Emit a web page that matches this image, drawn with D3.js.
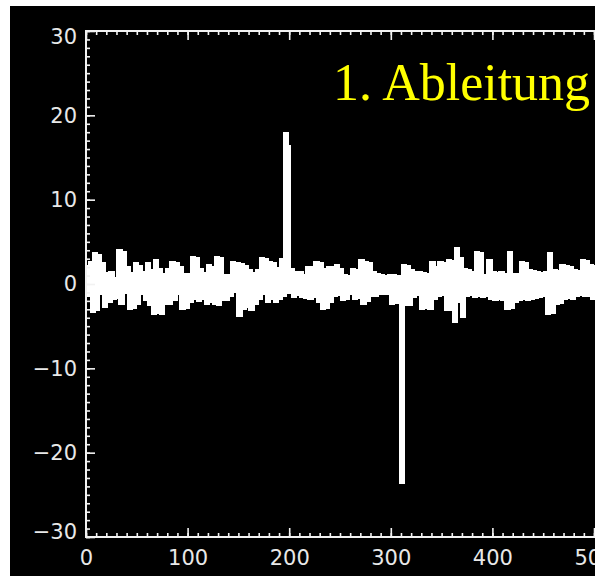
<!DOCTYPE html>
<html>
<head>
<meta charset="utf-8">
<script src="https://cdn.jsdelivr.net/npm/d3@7"></script>
<style>
  html, body { margin: 0; padding: 0; background: #fff; }
  svg { display: block; }
</style>
</head>
<body>
<script>
// derivative signal, one value every 2 samples (x = 0, 2, 4, ...)
const step = 2;
const values = [
  2.0, -1.3, 2.5, -3.2, 3.5, -2.9, 3.3, -1.0, 2.3, -2.6,
  1.2, -2.0, 1.3, -1.6, 0.6, -1.5, 3.9, -2.2, 3.6, -0.9,
  1.9, -2.8, 1.2, -2.7, 2.3, -2.2, 2.0, -1.0, 1.3, -1.8,
  2.3, -2.4, 1.5, -3.4, 2.7, -3.3, 1.7, -3.4, 1.1, -2.2,
  1.7, -2.2, 2.5, -1.8, 2.4, -1.0, 1.9, -2.8, 1.1, -2.7,
  1.1, -2.0, 3.1, -1.6, 3.0, -1.9, 1.7, -1.6, 1.2, -2.2,
  2.1, -2.0, 1.9, -2.2, 3.1, -2.4, 3.0, -1.8, 0.9, -1.8,
  0.9, -1.3, 2.5, -0.8, 2.3, -3.6, 2.2, -2.8, 2.0, -2.6,
  1.5, -3.0, 1.2, -2.2, 1.5, -1.6, 2.9, -1.1, 2.8, -2.0,
  2.5, -1.7, 2.3, -2.0, 1.8, -1.6, 2.8, -1.3, 17.8, 16.2,
  -0.9, 1.7, -1.4, 1.3, -1.2, 1.3, -1.4, 0.9, -1.5, 1.9,
  -1.6, 1.9, -1.4, 2.5, -2.0, 2.3, -2.8, 1.7, -2.7, 1.9,
  -2.0, 1.9, -1.3, 2.1, -1.2, 1.6, -1.8, 0.9, -1.7, 0.8,
  -1.1, 1.7, -1.6, 1.5, -1.5, 2.7, -2.2, 2.5, -1.9, 2.4,
  -1.3, 1.3, -1.3, 1.1, -1.1, 0.9, -1.0, 0.8, -1.1, 0.9,
  -2.2, 0.9, -2.1, 0.8, -1.4, -23.5, 2.1, -2.4, 2.0, -2.3,
  1.5, -1.4, 1.3, -1.2, 1.3, -2.8, 1.2, -2.7, 1.1, -2.8,
  2.5, -1.6, 1.9, -1.3, 2.5, -1.2, 2.4, -3.0, 2.7, -2.9,
  2.6, -4.4, 4.1, -2.0, 2.9, -3.8, 1.7, -1.3, 1.5, -1.2,
  1.3, -1.4, 3.7, -1.3, 3.5, -1.4, 0.9, -1.3, 2.7, -1.6,
  1.3, -1.8, 1.2, -1.7, 1.3, -1.8, 1.1, -2.8, 3.7, -2.7,
  1.1, -2.0, 1.0, -1.8, 2.5, -1.7, 2.4, -1.8, 1.5, -1.6,
  1.4, -1.5, 1.3, -1.4, 1.2, -1.3, 1.3, -3.4, 3.5, -3.3,
  1.5, -2.2, 1.4, -2.1, 2.1, -1.6, 2.0, -1.5, 1.9, -1.6,
  1.5, -1.3, 1.4, -1.2, 2.7, -1.3, 2.6, -1.3, 2.1, -1.6,
  2.0, -1.5, 1.9, -1.4, 1.6, -1.2
];
const xTicks = [0, 100, 200, 300, 400, 500];
const yTicks = [-30, -20, -10, 0, 10, 20, 30];
const title = "1. Ableitung";

const width = 595, height = 576;
const margin = { left: 86, top: 31, bottom: 39 };
const plotBottom = height - margin.bottom;

const x = d3.scaleLinear()
    .domain([0, 512])
    .range([margin.left, margin.left + 520.2]);

const y = d3.scaleLinear()
    .domain([-30, 30])
    .range([plotBottom, margin.top]);

const svg = d3.select("body").append("svg")
    .attr("width", width)
    .attr("height", height);

// black picture area with thin white border top/left
svg.append("rect")
    .attr("x", 10).attr("y", 6)
    .attr("width", width - 10).attr("height", height - 6)
    .attr("fill", "#000");

svg.append("clipPath").attr("id", "plot-clip")
  .append("rect")
    .attr("x", margin.left).attr("y", margin.top)
    .attr("width", width - margin.left).attr("height", plotBottom - margin.top);

const line = d3.line()
    .x((d, i) => x(i * step))
    .y(d => y(d))
    .curve(d3.curveStepAfter);

svg.append("path")
    .attr("clip-path", "url(#plot-clip)")
    .attr("d", line(values))
    .attr("fill", "none")
    .attr("stroke", "#fff")
    .attr("stroke-width", 4.3)
    .attr("shape-rendering", "crispEdges");

// axes (ticks point inward, IDL style)
const axisColor = "#f2f2f2";
const labelFont = "DejaVu Sans, sans-serif";

function styleAxis(g) {
  g.select(".domain").remove();
  g.selectAll(".tick line").attr("stroke", axisColor).attr("stroke-width", 1.6);
  g.selectAll(".tick text")
      .attr("fill", "#e8e8e8")
      .style("font-family", labelFont)
      .style("font-size", "21px");
}

const xMinor = d3.range(0, 520, 10);
const yMinor = d3.range(-30, 31, 1);

// bottom
svg.append("g").attr("transform", `translate(0,${plotBottom})`)
    .call(d3.axisBottom(x).tickValues(xMinor).tickSize(-4).tickFormat(""))
    .call(styleAxis);
svg.append("g").attr("transform", `translate(0,${plotBottom})`)
    .call(d3.axisBottom(x).tickValues(xTicks).tickSize(-9).tickPadding(13).tickFormat(d3.format("d")))
    .call(styleAxis);

// top
svg.append("g").attr("transform", `translate(0,${margin.top})`)
    .call(d3.axisTop(x).tickValues(xMinor).tickSize(-4).tickFormat(""))
    .call(styleAxis);
svg.append("g").attr("transform", `translate(0,${margin.top})`)
    .call(d3.axisTop(x).tickValues(xTicks).tickSize(-9).tickFormat(""))
    .call(styleAxis);

// left
svg.append("g").attr("transform", `translate(${margin.left},0)`)
    .call(d3.axisLeft(y).tickValues(yMinor).tickSize(-4).tickFormat(""))
    .call(styleAxis);
const yAxisG = svg.append("g").attr("transform", `translate(${margin.left},0)`)
    .call(d3.axisLeft(y).tickValues(yTicks).tickSize(-9).tickPadding(9).tickFormat(d3.format("d")))
    .call(styleAxis);
// end labels sit inside the frame, as in the original
yAxisG.selectAll(".tick text")
    .attr("dy", d => d === 30 ? "0.6em" : d === -30 ? "0.05em" : "0.32em");

// frame lines
svg.append("path")
    .attr("d", `M${width},${margin.top}H${margin.left}V${plotBottom}H${width}`)
    .attr("fill", "none")
    .attr("stroke", axisColor)
    .attr("stroke-width", 2);

svg.append("text")
    .attr("x", 333)
    .attr("y", 100)
    .attr("fill", "#ffff00")
    .style("font-family", "Liberation Serif, Times New Roman, serif")
    .style("font-size", "52px")
    .text(title);
</script>
</body>
</html>
